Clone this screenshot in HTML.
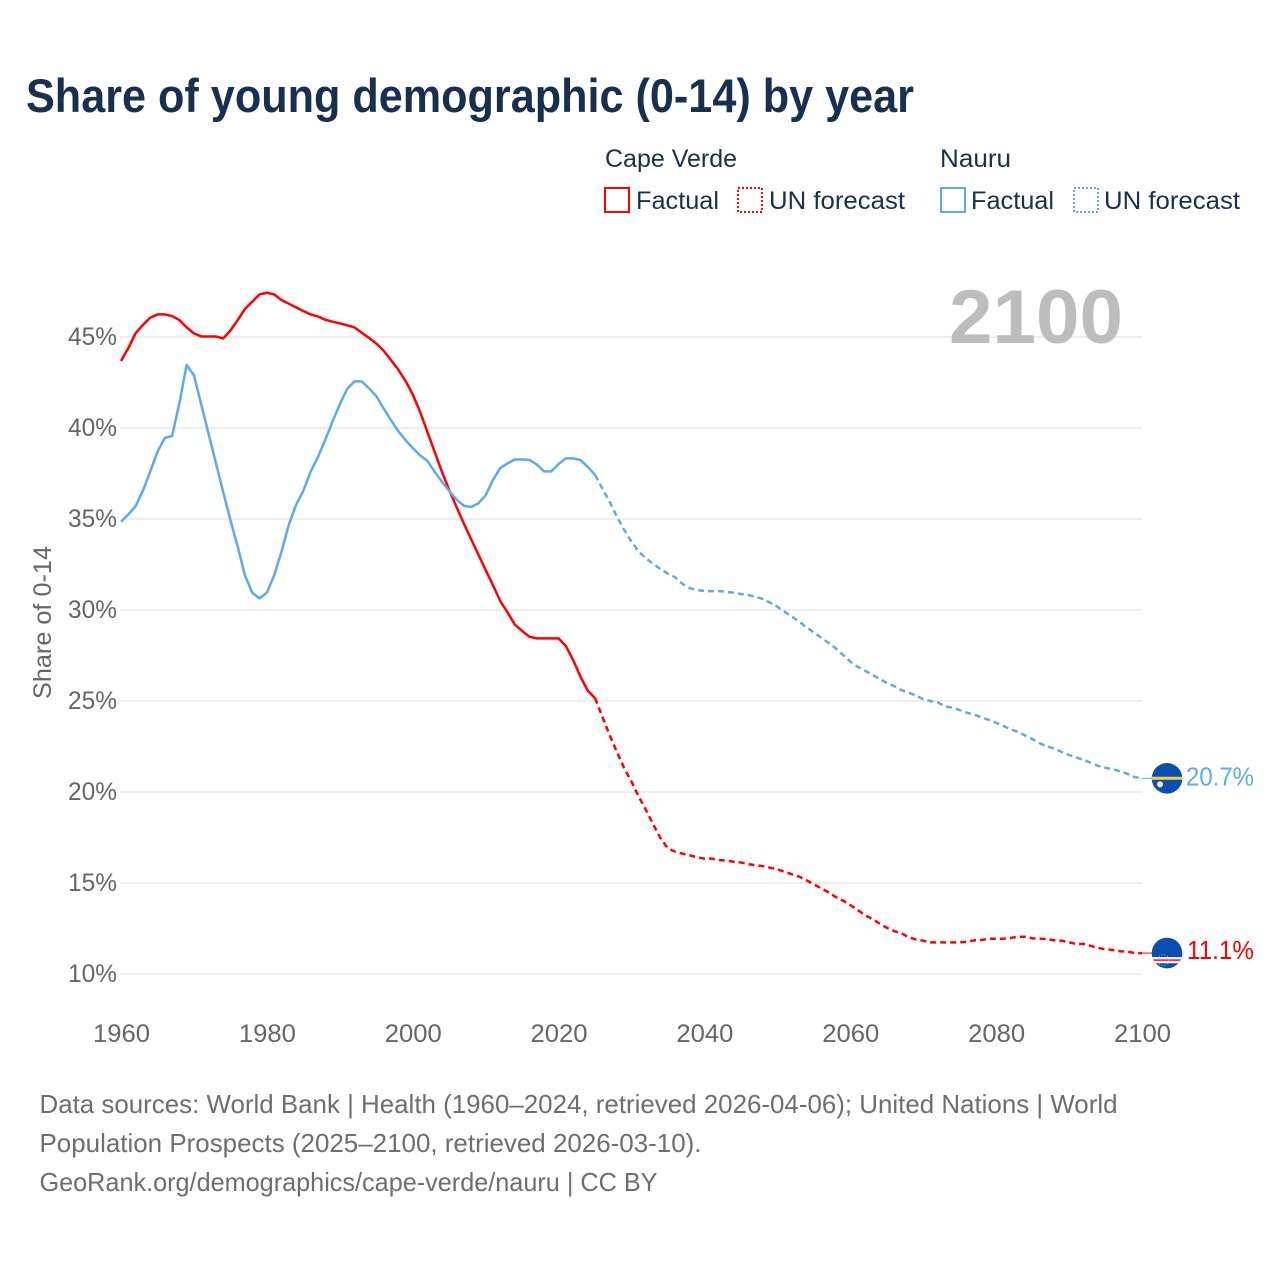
<!DOCTYPE html>
<html lang="en">
<head>
<meta charset="utf-8">
<title>Share of young demographic (0-14) by year</title>
<style>
  html, body { margin: 0; padding: 0; background: #fff; }
  svg { display: block; font-family: "Liberation Sans", sans-serif; }
  .legend-text { font-size: 25px; fill: #18304f; }
  .tick { font-size: 25px; fill: #666; }
  .note { font-size: 26px; fill: #6e6e6e; }
</style>
</head>
<body>
<svg id="chart" width="1280" height="1280" viewBox="0 0 1280 1280" xmlns="http://www.w3.org/2000/svg">
  <defs>
    <clipPath id="clip-nauru"><circle id="clip-nauru-circle" r="15.3"></circle></clipPath>
    <clipPath id="clip-cv"><circle id="clip-cv-circle" r="15.3"></circle></clipPath>
  </defs>
  <rect width="1280" height="1280" fill="#fff"></rect>

  <text x="26" y="112" font-size="47" font-weight="700" fill="#18304f" textLength="888" lengthAdjust="spacingAndGlyphs">Share of young demographic (0-14) by year</text>

  <g>
    <text class="legend-text" x="605" y="167" textLength="132" lengthAdjust="spacingAndGlyphs">Cape Verde</text>
    <rect x="605" y="188" width="24" height="24" fill="none" stroke="#ff0000" stroke-width="2"></rect>
    <text class="legend-text" x="636" y="209" textLength="83" lengthAdjust="spacingAndGlyphs">Factual</text>
    <rect x="738" y="188" width="24" height="24" fill="none" stroke="#ff0000" stroke-width="2" stroke-dasharray="2 2"></rect>
    <text class="legend-text" x="769" y="209" textLength="136" lengthAdjust="spacingAndGlyphs">UN forecast</text>

    <text class="legend-text" x="940" y="167" textLength="71" lengthAdjust="spacingAndGlyphs">Nauru</text>
    <rect x="941" y="188" width="24" height="24" fill="none" stroke="#5ea9ee" stroke-width="2"></rect>
    <text class="legend-text" x="971" y="209" textLength="83" lengthAdjust="spacingAndGlyphs">Factual</text>
    <rect x="1074" y="188" width="24" height="24" fill="none" stroke="#5ea9ee" stroke-width="2" stroke-dasharray="2 2"></rect>
    <text class="legend-text" x="1104" y="209" textLength="136" lengthAdjust="spacingAndGlyphs">UN forecast</text>
  </g>

  <g id="grid"></g>
  <g id="x-axis"></g>

  <text x="949" y="343" font-size="76" font-weight="700" fill="#bdbdbd" textLength="174" lengthAdjust="spacingAndGlyphs">2100</text>

  <text transform="translate(51,699) rotate(-90)" font-size="25" fill="#666" textLength="153" lengthAdjust="spacingAndGlyphs">Share of 0-14</text>

  <g id="series"></g>
  <g id="end-markers"></g>

  <g>
    <text class="note" x="39.5" y="1113" textLength="1078" lengthAdjust="spacingAndGlyphs">Data sources: World Bank | Health (1960–2024, retrieved 2026-04-06); United Nations | World</text>
    <text class="note" x="39.5" y="1152" textLength="662" lengthAdjust="spacingAndGlyphs">Population Prospects (2025–2100, retrieved 2026-03-10).</text>
    <text class="note" x="39.5" y="1191" textLength="618" lengthAdjust="spacingAndGlyphs">GeoRank.org/demographics/cape-verde/nauru | CC BY</text>
  </g>
</svg>

<script>
const xTicks = [1960, 1980, 2000, 2020, 2040, 2060, 2080, 2100];
const yTicks = [10, 15, 20, 25, 30, 35, 40, 45];
const factualStartYear = 1960;
const forecastStartYear = 2025;

// Cape Verde, 1960-2025
const capeVerdeFactual = [43.68,44.38,45.2,45.66,46.06,46.24,46.24,46.15,45.93,45.53,45.2,45.03,45.03,45.03,44.92,45.35,45.93,46.54,46.94,47.34,47.43,47.34,47.03,46.83,46.63,46.43,46.24,46.13,45.95,45.84,45.75,45.64,45.53,45.24,44.95,44.65,44.25,43.74,43.22,42.6,41.85,40.9,39.8,38.7,37.6,36.6,35.67,34.76,33.9,33.05,32.2,31.37,30.5,29.87,29.2,28.85,28.53,28.44,28.44,28.44,28.44,28.02,27.25,26.34,25.57,25.16];
// Cape Verde, 2025-2100
const capeVerdeForecast = [25.16,24.14,23.13,22.2,21.3,20.57,19.74,19.0,18.2,17.45,16.9,16.72,16.61,16.52,16.41,16.34,16.34,16.26,16.23,16.17,16.13,16.04,15.97,15.93,15.84,15.75,15.62,15.48,15.35,15.15,14.93,14.71,14.49,14.23,14.03,13.79,13.52,13.24,13.02,12.78,12.54,12.36,12.24,12.02,11.9,11.83,11.74,11.74,11.74,11.74,11.74,11.77,11.85,11.87,11.94,11.94,11.94,11.98,12.05,12.05,11.96,11.94,11.92,11.85,11.83,11.74,11.65,11.65,11.54,11.43,11.36,11.32,11.25,11.23,11.15,11.15];
// Nauru, 1960-2025
const nauruFactual = [34.85,35.25,35.7,36.55,37.6,38.7,39.45,39.56,41.35,43.46,42.9,41.3,39.7,38.1,36.5,34.95,33.48,31.9,30.95,30.64,30.95,31.9,33.2,34.67,35.77,36.55,37.6,38.4,39.34,40.35,41.3,42.14,42.56,42.56,42.18,41.76,41.08,40.44,39.84,39.34,38.9,38.5,38.2,37.6,37.05,36.55,36.07,35.73,35.66,35.86,36.3,37.14,37.8,38.05,38.27,38.27,38.25,38.0,37.62,37.62,38.02,38.33,38.33,38.24,37.87,37.42];
// Nauru, 2025-2100
const nauruForecast = [37.42,36.68,35.95,35.13,34.4,33.75,33.2,32.84,32.53,32.24,32.0,31.8,31.43,31.2,31.1,31.04,31.04,31.04,31.0,30.95,30.88,30.82,30.73,30.6,30.4,30.18,29.9,29.63,29.36,29.05,28.77,28.48,28.2,27.9,27.53,27.16,26.88,26.67,26.45,26.21,26.0,25.82,25.6,25.46,25.3,25.1,25.0,24.92,24.7,24.63,24.5,24.36,24.25,24.1,23.96,23.8,23.63,23.44,23.3,23.1,22.9,22.67,22.5,22.38,22.2,22.03,21.9,21.76,21.6,21.43,21.33,21.25,21.14,21.0,20.82,20.75];

const endLabels = ['20.7%', '11.1%'];

const NS = 'http://www.w3.org/2000/svg';
const xScale = y => 121 + (y - 1960) * (1142 - 121) / 140;
const yScale = v => 974 - (v - 10) * 18.2;
const COLORS = { red: '#ff0000', blue: '#5ea9ee' };

function make(tag, attrs, parent) {
  const el = document.createElementNS(NS, tag);
  for (const k in attrs) el.setAttribute(k, attrs[k]);
  parent.appendChild(el);
  return el;
}
function pathFor(values, startYear) {
  return values.map((v, i) => (i ? 'L' : 'M') + xScale(startYear + i).toFixed(2) + ' ' + yScale(v).toFixed(2)).join(' ');
}

const grid = document.getElementById('grid');


yTicks.forEach(t => {
  const line = make('line', { x1: 120.5, x2: 1142, y1: yScale(t), y2: yScale(t), stroke: '#eeeeee', 'stroke-width': 2 }, grid);
  
  
  const label = make('text', { class: 'tick', x: 117, y: yScale(t) + 8, 'text-anchor': 'end', textLength: 49, lengthAdjust: 'spacingAndGlyphs' }, grid);
  label.textContent = t + '%';
  
  
});

const xAxis = document.getElementById('x-axis');


xTicks.forEach(t => {
  const label = make('text', { class: 'tick', x: xScale(t) + 0.5, y: 1042, 'text-anchor': 'middle', textLength: 57, lengthAdjust: 'spacingAndGlyphs' }, xAxis);
  label.textContent = t;
  
  
});

const series = document.getElementById('series');



const cvFactualLine = make('path', { d: pathFor(capeVerdeFactual, factualStartYear), fill: 'none', stroke: COLORS.red, 'stroke-width': 2.5, 'stroke-linejoin': 'round' }, series);



const cvForecastLine = make('path', { d: pathFor(capeVerdeForecast, forecastStartYear), fill: 'none', stroke: COLORS.red, 'stroke-width': 2.5, 'stroke-dasharray': '6 4' }, series);



const nauruFactualLine = make('path', { d: pathFor(nauruFactual, factualStartYear), fill: 'none', stroke: COLORS.blue, 'stroke-width': 2.5, 'stroke-linejoin': 'round' }, series);



const nauruForecastLine = make('path', { d: pathFor(nauruForecast, forecastStartYear), fill: 'none', stroke: COLORS.blue, 'stroke-width': 2.5, 'stroke-dasharray': '6 4' }, series);



// End-of-line flags and value labels follow the last value of each forecast.
const markers = document.getElementById('end-markers');


const FLAG_X = 1167;

const nauruEndY = yScale(nauruForecast[nauruForecast.length - 1]);
const cvEndY = yScale(capeVerdeForecast[capeVerdeForecast.length - 1]);
document.getElementById('clip-nauru-circle').setAttribute('cx', FLAG_X);
document.getElementById('clip-nauru-circle').setAttribute('cy', nauruEndY);
document.getElementById('clip-cv-circle').setAttribute('cx', FLAG_X);
document.getElementById('clip-cv-circle').setAttribute('cy', cvEndY);

const nauruConnector = make('line', { x1: xScale(2100), x2: FLAG_X - 15, y1: nauruEndY, y2: nauruEndY, stroke: COLORS.blue, 'stroke-width': 1 }, markers);



const cvConnector = make('line', { x1: xScale(2100), x2: FLAG_X - 15, y1: cvEndY, y2: cvEndY, stroke: COLORS.red, 'stroke-width': 1 }, markers);



const nauruFlag = make('g', { 'clip-path': 'url(#clip-nauru)' }, markers);


make('rect', { x: FLAG_X - 16, y: nauruEndY - 16, width: 32, height: 32, fill: '#0a4fb0' }, nauruFlag);
make('rect', { x: FLAG_X - 16, y: nauruEndY - 1.6, width: 32, height: 3, fill: '#f7ce46' }, nauruFlag);
make('circle', { cx: FLAG_X - 7, cy: nauruEndY + 6, r: 3, fill: '#f2f2f2' }, nauruFlag);

const cvFlag = make('g', { 'clip-path': 'url(#clip-cv)' }, markers);


make('rect', { x: FLAG_X - 16, y: cvEndY - 16, width: 32, height: 32, fill: '#0a4fb0' }, cvFlag);
make('rect', { x: FLAG_X - 16, y: cvEndY + 4, width: 32, height: 6.2, fill: '#f4f0f0' }, cvFlag);
make('rect', { x: FLAG_X - 16, y: cvEndY + 6.2, width: 32, height: 1.8, fill: '#e8374a' }, cvFlag);
make('circle', { cx: FLAG_X - 4, cy: cvEndY + 7, r: 5.5, fill: 'none', stroke: '#e8d27a', 'stroke-width': 0.8, 'stroke-dasharray': '1 2' }, cvFlag);

const nauruValue = make('text', { x: 1186, y: nauruEndY + 7, 'font-size': 26, fill: COLORS.blue, textLength: 68, lengthAdjust: 'spacingAndGlyphs' }, markers);
nauruValue.textContent = endLabels[0];



const cvValue = make('text', { x: 1187, y: cvEndY + 6, 'font-size': 26, fill: COLORS.red, textLength: 67, lengthAdjust: 'spacingAndGlyphs' }, markers);
cvValue.textContent = endLabels[1];


</script>
</body>
</html>
